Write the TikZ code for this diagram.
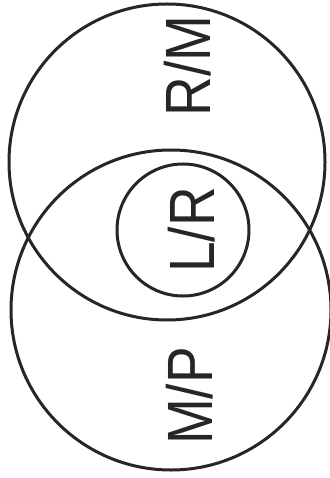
\documentclass[tikz,border=0pt]{standalone}
\usepackage{fontspec}
\setmainfont{Liberation Sans}
\usetikzlibrary{positioning}

\begin{document}
\begin{tikzpicture}[x=1pt,y=-1pt,
  ring/.style={draw=black!85,line width=3pt,circle,inner sep=0pt},
  tag/.style={rotate=90,font=\fontsize{64}{64}\selectfont,text=black!85,inner sep=0pt}
]
  \useasboundingbox (0,0) rectangle (329,478);
  \node[ring,minimum size=316pt] (upper) at (167,162) {};
  \node[ring,minimum size=320pt] (lower) at (171,310) {};
  \node[ring,minimum size=132pt] (core)  at (183,230) {};
  \node[tag] (rm) at (188,66)  {\scalebox{0.86}[1]{R/M}};
  \node[tag] (lr) at (192,230) {\scalebox{0.86}[1]{L/R}};
  \node[tag] (mp) at (190,396) {\scalebox{0.86}[1]{M/P}};
\end{tikzpicture}
\end{document}
